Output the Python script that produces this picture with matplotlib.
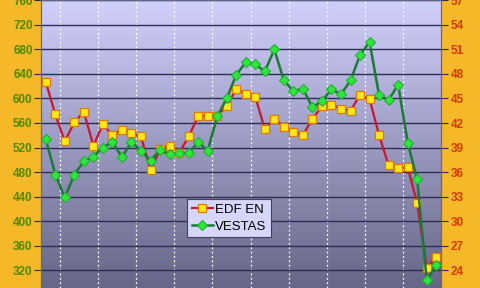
import numpy as np
import matplotlib.pyplot as plt

# EDF EN share price (left axis)
edf_en = [627, 574, 530, 561, 578, 523, 558, 540, 549, 543,
          538, 483, 517, 523, 511, 538, 571, 571, 572, 587,
          615, 608, 603, 550, 567, 554, 546, 540, 567, 587,
          590, 583, 580, 606, 599, 540, 491, 486, 488, 429,
          324, 341]
# VESTAS share price (right axis)
vestas = [40.0, 35.7, 32.9, 35.7, 37.3, 37.9, 39.0, 39.7, 37.8, 39.7,
          38.6, 37.4, 38.7, 38.2, 38.3, 38.3, 39.7, 38.6, 42.8, 45.0,
          47.9, 49.4, 49.2, 48.3, 51.0, 47.2, 45.9, 46.2, 43.9, 44.7,
          46.1, 45.5, 47.2, 50.3, 51.9, 45.4, 44.8, 46.7, 39.6, 35.1,
          22.8, 24.6]

left_ticks = [320, 360, 400, 440, 480, 520, 560, 600, 640, 680, 720, 760]
right_ticks = [24, 27, 30, 33, 36, 39, 42, 45, 48, 51, 54, 57]

plt.rcParams["font.family"] = ["Liberation Sans", "DejaVu Sans"]

fig = plt.figure(figsize=(4.8, 2.88), dpi=100, facecolor="#f5b828")
ax = fig.add_axes([41 / 480, 0, 400 / 480, 1])
ax2 = ax.twinx()

x = np.arange(len(edf_en))
ax.set_xlim(-0.5, len(edf_en) - 0.5)
ax.set_ylim(291, 760.5)
ax2.set_ylim(21.825, 57.04)

# background gradient
grad = np.linspace(0, 1, 256).reshape(-1, 1)
top = np.array([208, 208, 252]) / 255
bot = np.array([102, 102, 136]) / 255
img = top * (1 - grad)[..., None] + bot * grad[..., None]
ax.imshow(img, aspect="auto", extent=(0, 1, 0, 1), transform=ax.transAxes,
          zorder=0, interpolation="bilinear")

ax.set_yticks(left_ticks)
ax2.set_yticks(right_ticks)
ax.set_xticks(np.arange(1.5, len(edf_en) - 1, 4))
ax.tick_params(axis="x", length=0, labelbottom=False)
ax.grid(axis="y", color="#2c2c55", linewidth=1.0, zorder=1)
ax.grid(axis="x", color="white", linewidth=0.9, linestyle=(0, (1.5, 2)), zorder=1)

ax.tick_params(axis="y", direction="out", length=5, color="#2c2c55",
               labelsize=8.5, labelcolor="#4d8a00", pad=1)
ax2.tick_params(axis="y", direction="out", length=5, color="#2c2c55",
                labelsize=8.5, labelcolor="#d23a00", pad=2)
for lab in ax.get_yticklabels():
    lab.set_fontweight("bold")
for lab in ax2.get_yticklabels():
    lab.set_fontweight("bold")

for a in (ax, ax2):
    for s in a.spines.values():
        s.set_color("#666680")
        s.set_linewidth(0.8)
ax2.patch.set_visible(False)

l1, = ax.plot(x, edf_en, color="#cc1530", linewidth=1.6, marker="s",
              markersize=6, markerfacecolor="#ffe81a", markeredgecolor="#e07a00",
              markeredgewidth=0.9, label="EDF EN", zorder=3)
l2, = ax2.plot(x, vestas, color="#1b7a36", linewidth=1.8, marker="D",
               markersize=5, markerfacecolor="#2ee63a", markeredgecolor="#22b030",
               markeredgewidth=0.8, label="VESTAS", zorder=3)

leg = ax2.legend(handles=[l1, l2], loc="upper left",
                 bbox_to_anchor=((187 - 41) / 400, (288 - 199) / 288),
                 fontsize=9.5, frameon=True, fancybox=False, handlelength=1.6,
                 handletextpad=0.2, borderpad=0.35, labelspacing=0.35,
                 borderaxespad=0)
leg.get_frame().set_facecolor("#d6d6f8")
leg.get_frame().set_edgecolor("#404060")
leg.get_frame().set_alpha(1)
leg.get_frame().set_linewidth(0.8)

fig.savefig("out.png", dpi=100, facecolor=fig.get_facecolor())
